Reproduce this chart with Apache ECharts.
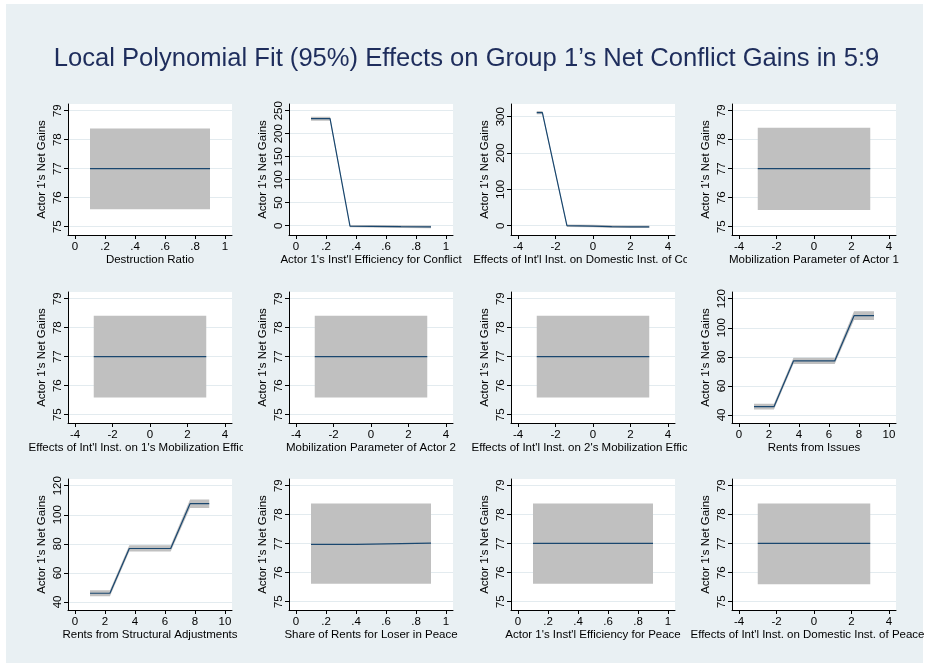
<!DOCTYPE html>
<html><head><meta charset="utf-8">
<script src="https://cdn.jsdelivr.net/npm/echarts@6/dist/echarts.min.js"></script>
<style>html,body{margin:0;padding:0;background:#fff}#c{width:933px;height:668px}</style>
</head><body><div id="c"></div>
<script>
// ---------- text ----------
const chartTitle = "Local Polynomial Fit (95%) Effects on Group 1\u2019s Net Conflict Gains in 5:9";
const yTitle = "Actor 1's Net Gains";
const xTitles = [
  "Destruction Ratio",
  "Actor 1's Inst'l Efficiency for Conflict",
  "Effects of Int'l Inst. on Domestic Inst. of Conflict",
  "Mobilization Parameter of Actor 1",
  "Effects of Int'l Inst. on 1's Mobilization Efficiency",
  "Mobilization Parameter of Actor 2",
  "Effects of Int'l Inst. on 2's Mobilization Efficiency",
  "Rents from Issues",
  "Rents from Structural Adjustments",
  "Share of Rents for Loser in Peace",
  "Actor 1's Inst'l Efficiency for Peace",
  "Effects of Int'l Inst. on Domestic Inst. of Peace"
];

// ---------- tick labels ----------
const xTicksUnit = [0, 0.2, 0.4, 0.6, 0.8, 1];
const xTicksSym = [-4, -2, 0, 2, 4];
const xTicksTen = [0, 2, 4, 6, 8, 10];
const yTicks77 = [75, 76, 77, 78, 79];
const yTicks250 = [0, 50, 100, 150, 200, 250];
const yTicks300 = [0, 100, 200, 300];
const yTicks120 = [40, 60, 80, 100, 120];

// ---------- data (x, fitted value, lower CI, upper CI) ----------
const p1X = [0.1, 0.5, 0.9];
const p1Fit = [77.0, 77.0, 77.0];
const p1Lo = [75.6, 75.6, 75.6];
const p1Hi = [78.39, 78.39, 78.39];

const p2X = [0.1, 0.227, 0.36, 0.5, 0.7, 0.9];
const p2Fit = [232.6, 232.6, -1.0, -1.3, -2.0, -2.5];
const p2Lo = [228.3, 228.3, -3.5, -4.0, -5.0, -5.5];
const p2Hi = [236.9, 236.9, 1.5, 1.4, 1.0, 0.5];

const p3X = [-3.0, -2.7, -1.39, 0, 1, 2, 3.0];
const p3Fit = [311, 311, 0, -1.0, -2.5, -3.0, -3.0];
const p3Lo = [306.5, 306.5, -3.5, -4.5, -6.0, -6.5, -6.5];
const p3Hi = [315.5, 315.5, 3.5, 2.5, 1.0, 0.5, 0.5];

const p4X = [-3, 0, 3];
const p4Fit = [77.0, 77.0, 77.0];
const p4Lo = [75.58, 75.58, 75.58];
const p4Hi = [78.41, 78.41, 78.41];

const p5X = [-3, 0, 3];
const p5Fit = [77.0, 77.0, 77.0];
const p5Lo = [75.59, 75.59, 75.59];
const p5Hi = [78.41, 78.41, 78.41];

const p6X = [-3, 0, 3];
const p6Fit = [77.0, 77.0, 77.0];
const p6Lo = [75.59, 75.59, 75.59];
const p6Hi = [78.41, 78.41, 78.41];

const p7X = [-3, 0, 3];
const p7Fit = [77.0, 77.0, 77.0];
const p7Lo = [75.59, 75.59, 75.59];
const p7Hi = [78.41, 78.41, 78.41];

const p8X = [1.0, 2.33, 3.63, 6.38, 7.67, 9.0];
const p8Fit = [45.7, 45.7, 77.2, 77.2, 108.3, 108.3];
const p8Lo = [43.7, 43.7, 75.0, 75.0, 105.3, 105.3];
const p8Hi = [47.7, 47.7, 79.4, 79.4, 111.3, 111.3];

const p9X = [1.0, 2.33, 3.62, 6.38, 7.67, 8.95];
const p9Fit = [46.0, 46.0, 76.8, 76.8, 107.6, 107.6];
const p9Lo = [44.0, 44.0, 74.7, 74.7, 104.7, 104.7];
const p9Hi = [48.0, 48.0, 79.0, 79.0, 110.5, 110.5];

const p10X = [0.1, 0.4, 0.405, 0.9];
const p10Fit = [76.98, 76.98, 77.02, 77.02];
const p10Lo = [75.62, 75.62, 75.62, 75.62];
const p10Hi = [78.39, 78.39, 78.39, 78.39];

const p11X = [0.1, 0.5, 0.9];
const p11Fit = [77.01, 77.01, 77.01];
const p11Lo = [75.62, 75.62, 75.62];
const p11Hi = [78.39, 78.39, 78.39];

const p12X = [-3, 0, 3];
const p12Fit = [77.01, 77.01, 77.01];
const p12Lo = [75.6, 75.6, 75.6];
const p12Hi = [78.39, 78.39, 78.39];

// ---------- layout / style ----------
const FONT = "'Liberation Sans', Arial, Helvetica, sans-serif";
const colLeft = [68, 289, 511, 732];
const rowTop = [104, 292, 479];
const plotW = 164, plotH = 131;
const cellLeft = [6, 243, 465, 687, 923];
const cellTop = [88, 277, 464, 663];
const BG = '#e9f0f3';
const LINE = '#1a476f';
const BAND = '#c0c0c0';
const GRIDC = '#e3ebef';

const xRanges = { unit: [-0.0467, 1.0467], sym: [-4.373, 4.373], ten: [-0.467, 10.467] };
const yRanges = { c77: [74.714, 79.231], r250: [-20.2, 264.6], r300: [-25.6, 335], r120: [34.48, 124.6] };
const xTickSets = { unit: xTicksUnit, sym: xTicksSym, ten: xTicksTen };
const yTickSets = { c77: yTicks77, r250: yTicks250, r300: yTicks300, r120: yTicks120 };

const panels = [
  { x: p1X, fit: p1Fit, lo: p1Lo, hi: p1Hi, xr: 'unit', yr: 'c77' },
  { x: p2X, fit: p2Fit, lo: p2Lo, hi: p2Hi, xr: 'unit', yr: 'r250' },
  { x: p3X, fit: p3Fit, lo: p3Lo, hi: p3Hi, xr: 'sym', yr: 'r300' },
  { x: p4X, fit: p4Fit, lo: p4Lo, hi: p4Hi, xr: 'sym', yr: 'c77' },
  { x: p5X, fit: p5Fit, lo: p5Lo, hi: p5Hi, xr: 'sym', yr: 'c77' },
  { x: p6X, fit: p6Fit, lo: p6Lo, hi: p6Hi, xr: 'sym', yr: 'c77' },
  { x: p7X, fit: p7Fit, lo: p7Lo, hi: p7Hi, xr: 'sym', yr: 'c77' },
  { x: p8X, fit: p8Fit, lo: p8Lo, hi: p8Hi, xr: 'ten', yr: 'r120' },
  { x: p9X, fit: p9Fit, lo: p9Lo, hi: p9Hi, xr: 'ten', yr: 'r120' },
  { x: p10X, fit: p10Fit, lo: p10Lo, hi: p10Hi, xr: 'unit', yr: 'c77' },
  { x: p11X, fit: p11Fit, lo: p11Lo, hi: p11Hi, xr: 'unit', yr: 'c77' },
  { x: p12X, fit: p12Fit, lo: p12Lo, hi: p12Hi, xr: 'sym', yr: 'c77', namePad: [0, 13, 0, 0] }
];

function fmtX(v) {
  if (Math.abs(v) > 0 && Math.abs(v) < 1) {
    return (v < 0 ? '-' : '') + String(Math.round(Math.abs(v) * 10) / 10).replace(/^0/, '');
  }
  return String(v);
}

function bandRender(xs, lo, hi) {
  return function (params, api) {
    if (params.dataIndex !== 0) return null;
    const pts = [];
    for (let i = 0; i < xs.length; i++) pts.push(api.coord([xs[i], hi[i]]));
    for (let i = xs.length - 1; i >= 0; i--) pts.push(api.coord([xs[i], lo[i]]));
    return { type: 'polygon', shape: { points: pts }, style: { fill: BAND } };
  };
}

const grids = [], xAxes = [], yAxes = [], series = [];
const graphics = [{ type: 'rect', z: 0, shape: { x: 6, y: 4, width: 917, height: 659 }, style: { fill: BG } }];

panels.forEach(function (p, k) {
  const col = k % 4, row = Math.floor(k / 4);
  const zb = 10 * (k + 1);
  graphics.push({ type: 'rect', z: zb + 1,
    shape: { x: cellLeft[col], y: cellTop[row], width: cellLeft[col + 1] - cellLeft[col], height: cellTop[row + 1] - cellTop[row] },
    style: { fill: BG } });
  grids.push({ left: colLeft[col], top: rowTop[row], width: plotW, height: plotH,
    show: true, backgroundColor: '#ffffff', borderWidth: 0, z: zb + 2 });
  const xt = xTickSets[p.xr], yt = yTickSets[p.yr];
  xAxes.push({
    gridIndex: k, type: 'value', min: xRanges[p.xr][0], max: xRanges[p.xr][1], z: zb + 3,
    axisLine: { show: true, onZero: false, lineStyle: { color: '#000', width: 1 } },
    axisTick: { show: true, length: 4, customValues: xt, lineStyle: { color: '#000', width: 1 } },
    axisLabel: { customValues: xt, formatter: fmtX, margin: 6, fontSize: 11.5, color: '#000', fontFamily: FONT },
    splitLine: { show: false },
    name: xTitles[k], nameLocation: 'middle', nameGap: 18,
    nameTextStyle: { fontSize: 11.5, color: '#000', fontFamily: FONT, padding: p.namePad || 0 }
  });
  yAxes.push({
    gridIndex: k, type: 'value', min: yRanges[p.yr][0], max: yRanges[p.yr][1], z: zb + 3,
    axisLine: { show: true, onZero: false, lineStyle: { color: '#000', width: 1 } },
    axisTick: { show: true, length: 4, customValues: yt, lineStyle: { color: '#000', width: 1 } },
    axisLabel: { customValues: yt, rotate: 90, margin: 4, fontSize: 11.5, color: '#000', fontFamily: FONT },
    splitLine: { show: true, lineStyle: { color: GRIDC, width: 1 } },
    name: yTitle, nameLocation: 'middle', nameGap: 20, nameRotate: 90,
    nameTextStyle: { fontSize: 11.5, color: '#000', fontFamily: FONT }
  });
  series.push({
    type: 'custom', xAxisIndex: k, yAxisIndex: k, z: zb + 4, silent: true,
    data: p.x.map(function (x, i) { return [x, p.lo[i], p.hi[i]]; }),
    encode: { x: 0, y: [1, 2] },
    renderItem: bandRender(p.x, p.lo, p.hi)
  });
  series.push({
    type: 'line', xAxisIndex: k, yAxisIndex: k, z: zb + 5, silent: true,
    showSymbol: false, symbol: 'none',
    data: p.x.map(function (x, i) { return [x, p.fit[i]]; }),
    lineStyle: { color: LINE, width: 1.2 }
  });
});

const chart = echarts.init(document.getElementById('c'), null, { renderer: 'canvas' });
chart.setOption({
  animation: false,
  backgroundColor: '#ffffff',
  title: { text: chartTitle, left: 'center', top: 41, z: 500,
    textStyle: { fontSize: 25.6, fontWeight: 'normal', color: '#1e2d5c', fontFamily: FONT } },
  graphic: { elements: graphics },
  grid: grids, xAxis: xAxes, yAxis: yAxes, series: series
});
</script></body></html>
